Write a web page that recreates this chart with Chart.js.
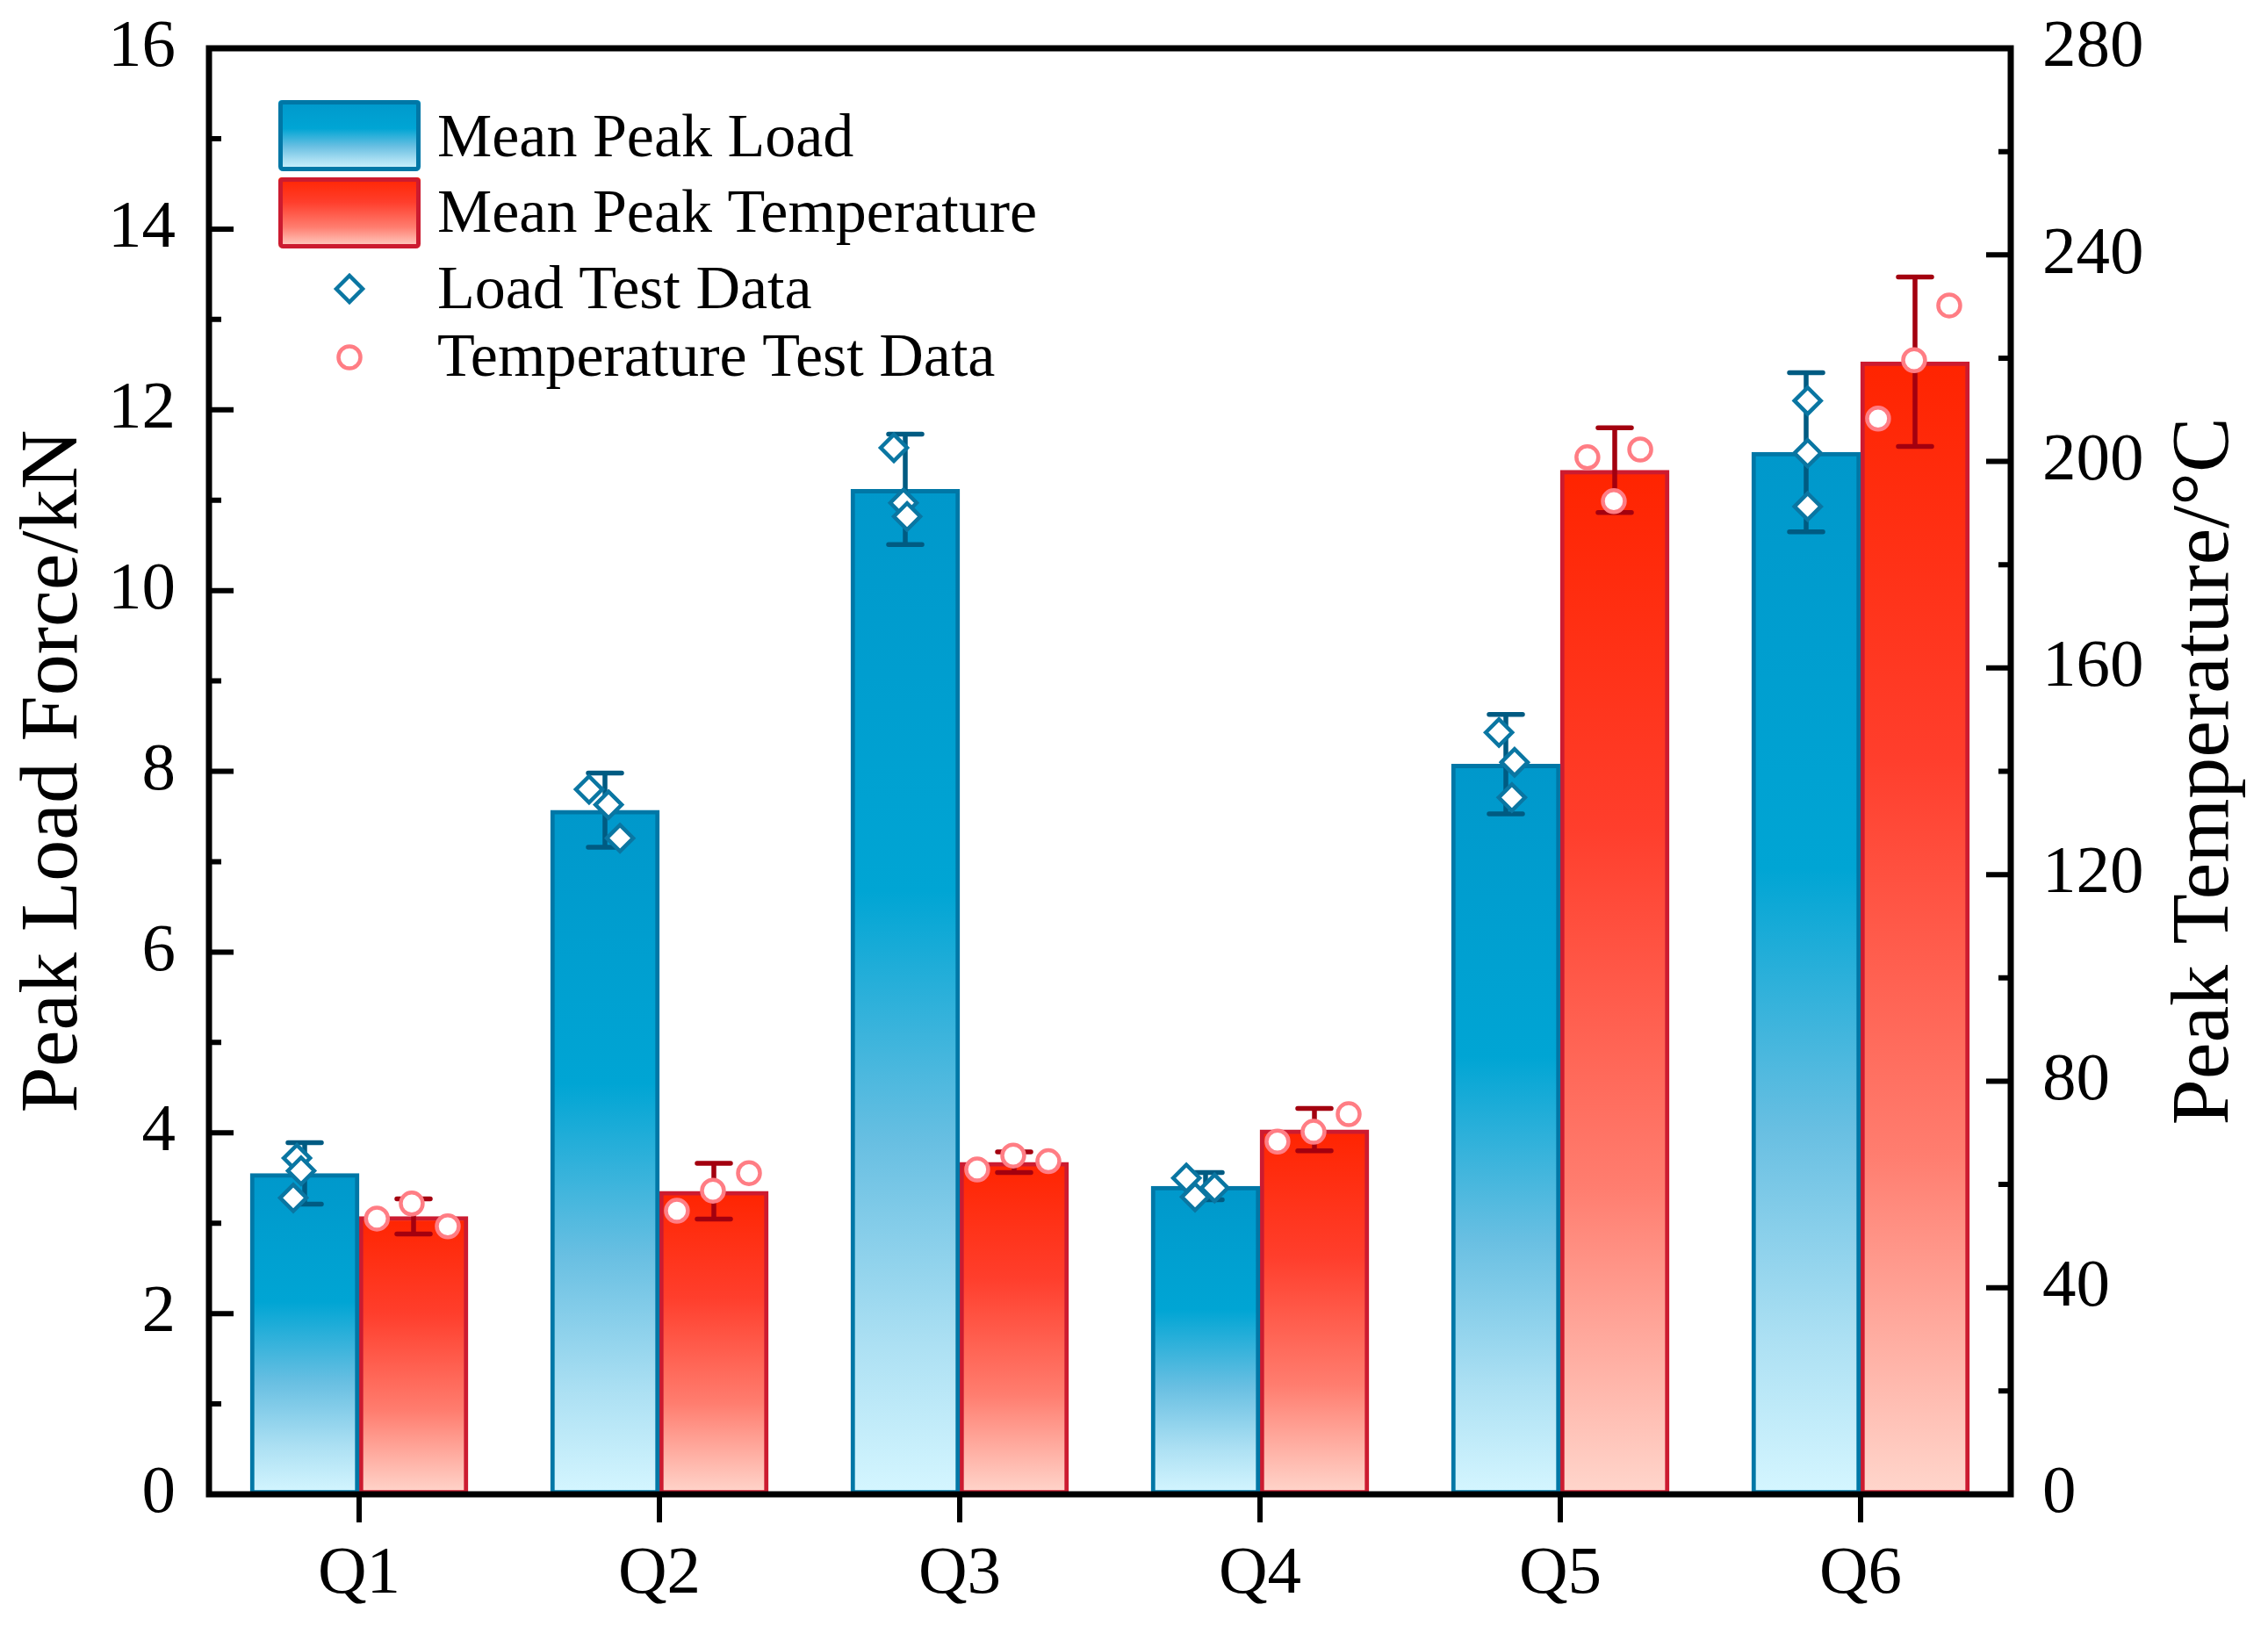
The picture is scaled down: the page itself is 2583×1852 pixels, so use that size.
<!DOCTYPE html>
<html>
<head>
<meta charset="utf-8">
<script src="https://cdn.jsdelivr.net/npm/chart.js@4"></script>
<style>
  html, body { margin: 0; padding: 0; background: #fff; }
  #wrap { width: 2583px; height: 1852px; position: relative; }
</style>
</head>
<body>
<div id="wrap"><canvas id="chart"></canvas></div>
<script>
// data
const categories = ['Q1', 'Q2', 'Q3', 'Q4', 'Q5', 'Q6'];
const loadMean = [3.55, 7.57, 11.12, 3.41, 8.08, 11.53];
const loadErr = [0.34, 0.41, 0.61, 0.15, 0.55, 0.88];
const tempMean = [53.8, 58.7, 64.3, 70.6, 198.3, 219.3];
const tempErr = [3.4, 5.4, 2.0, 4.1, 8.2, 16.4];
const loadTests = [[3.72, 3.58, 3.28], [7.80, 7.63, 7.26], [11.58, 10.97, 10.82], [3.50, 3.29, 3.39], [8.43, 8.10, 7.71], [12.10, 11.52, 10.93]];
const tempTests = [[53.4, 56.3, 51.9], [54.9, 58.8, 62.2], [62.9, 65.6, 64.5], [68.3, 70.2, 73.6], [200.8, 192.3, 202.3], [208.3, 219.6, 230.2]];
// horizontal scatter of the test points around their bar (category units)
const loadJitter = [[-0.026, -0.012, -0.038], [-0.053, 0.012, 0.05], [-0.038, -0.006, 0.006], [-0.064, -0.035, 0.03], [-0.023, 0.029, 0.02], [0.005, 0.005, 0.005]];
const tempJitter = [[-0.122, -0.006, 0.114], [-0.123, -0.003, 0.117], [-0.123, -0.003, 0.114], [-0.123, -0.003, 0.114], [-0.091, -0.003, 0.085], [-0.123, -0.003, 0.114]];
const loadTicks = { min: 0, max: 16, major: 2, minor: 1 };
const tempTicks = { min: 0, max: 280, major: 40, minor: 20 };

const FONT = "'Liberation Serif', 'Times New Roman', serif";
const groupWidth = 0.725;
const shift = groupWidth / 4;

const blueStops = [[0, '#0098cb'], [0.4, '#00a5d4'], [0.65, '#68bfe2'], [0.85, '#ace0f3'], [1, '#d5f6ff']];
const redStops = [[0, '#ff2400'], [0.35, '#ff3e2c'], [0.7, '#ff7d6f'], [1, '#ffd6cc']];

function makeGradient(ctx, stops, top, bottom) {
  const g = ctx.createLinearGradient(0, top, 0, bottom);
  stops.forEach(s => g.addColorStop(s[0], s[1]));
  return g;
}

function barFill(stops, axisId) {
  return (c) => {
    if (c.type !== 'data') return stops[0][1];
    const scale = c.chart.scales[axisId];
    if (!scale) return stops[0][1];
    const top = scale.getPixelForValue(c.raw);
    const base = scale.getPixelForValue(0);
    if (!isFinite(top) || !isFinite(base) || base - top < 1) return stops[0][1];
    return makeGradient(c.chart.ctx, stops, top, base);
  };
}

function testPoints(tests, jitter, side) {
  const pts = [];
  tests.forEach((vals, i) => {
    vals.forEach((v, k) => pts.push({ x: i + side * shift + jitter[i][k], y: v }));
  });
  return pts;
}

const diamondStyle = { pointStyle: 'rectRot', radius: 15, borderWidth: 4.5, borderColor: '#0a76a2', backgroundColor: '#ffffff' };
const circleStyle = { pointStyle: 'circle', radius: 12.5, borderWidth: 4.5, borderColor: '#ff7d84', backgroundColor: '#ffffff' };

// no label overflow padding, the plot area is fixed
function fixBox(w, h) {
  return (s) => {
    if (w !== null) s.width = w;
    if (h !== null) s.height = h;
    s.paddingTop = 0; s.paddingBottom = 0; s.paddingLeft = 0; s.paddingRight = 0;
  };
}

const errorBars = {
  id: 'errorBars',
  afterDatasetDraw(chart, args) {
    const ds = chart.data.datasets[args.index];
    if (!ds.errors) return;
    const ctx = chart.ctx;
    const scale = chart.scales[ds.yAxisID];
    ctx.save();
    ctx.strokeStyle = ds.errorColor;
    ctx.lineWidth = 5.5;
    ctx.lineCap = 'round';
    args.meta.data.forEach((bar, i) => {
      const hi = scale.getPixelForValue(ds.data[i] + ds.errors[i]);
      const lo = scale.getPixelForValue(ds.data[i] - ds.errors[i]);
      const x = bar.x;
      ctx.beginPath();
      ctx.moveTo(x, hi); ctx.lineTo(x, lo);
      ctx.moveTo(x - 19, hi); ctx.lineTo(x + 19, hi);
      ctx.moveTo(x - 19, lo); ctx.lineTo(x + 19, lo);
      ctx.stroke();
    });
    ctx.restore();
  }
};

const frameAndTicks = {
  id: 'frameAndTicks',
  afterDraw(chart) {
    const ctx = chart.ctx;
    const a = chart.chartArea;
    ctx.save();
    ctx.strokeStyle = '#000';
    ctx.lineWidth = 6;
    ctx.lineCap = 'butt';
    const y = chart.scales.y, y1 = chart.scales.y1, x = chart.scales.x;
    ctx.beginPath();
    y.ticks.forEach(t => {
      const p = y.getPixelForValue(t.value);
      const len = t.value % loadTicks.major === 0 ? 28 : 14;
      ctx.moveTo(a.left, p); ctx.lineTo(a.left + len, p);
    });
    y1.ticks.forEach(t => {
      const p = y1.getPixelForValue(t.value);
      const len = t.value % tempTicks.major === 0 ? 28 : 14;
      ctx.moveTo(a.right, p); ctx.lineTo(a.right - len, p);
    });
    x.ticks.forEach((t, i) => {
      const p = x.getPixelForTick(i);
      ctx.moveTo(p, a.bottom); ctx.lineTo(p, a.bottom + 32);
    });
    ctx.stroke();
    ctx.lineWidth = 7;
    ctx.strokeRect(a.left, a.top, a.right - a.left, a.bottom - a.top);

    // right axis title, reading upward
    ctx.fillStyle = '#000';
    ctx.font = '94px ' + FONT;
    ctx.textAlign = 'center';
    ctx.textBaseline = 'middle';
    ctx.translate(2512, (a.top + a.bottom) / 2);
    ctx.rotate(-Math.PI / 2);
    ctx.fillText('Peak Temperature/°C', 0, 0);
    ctx.restore();
  }
};

function drawMarker(ctx, style, x, y) {
  ctx.save();
  ctx.fillStyle = style.backgroundColor;
  ctx.strokeStyle = style.borderColor;
  ctx.lineWidth = style.borderWidth;
  Chart.helpers.drawPoint(ctx, style, x, y);
  ctx.restore();
}

const legendBox = {
  id: 'legendBox',
  afterDraw(chart) {
    const ctx = chart.ctx;
    ctx.save();
    const boxes = [
      { y: 114, stops: blueStops, border: '#0077a6' },
      { y: 202, stops: redStops, border: '#cc1b30' }
    ];
    boxes.forEach(b => {
      ctx.fillStyle = makeGradient(ctx, b.stops, b.y, b.y + 81);
      ctx.beginPath();
      ctx.roundRect(317, b.y, 162, 81, 4);
      ctx.fill();
      ctx.lineWidth = 5;
      ctx.strokeStyle = b.border;
      ctx.beginPath();
      ctx.roundRect(319.5, b.y + 2.5, 157, 76, 3);
      ctx.stroke();
    });
    drawMarker(ctx, diamondStyle, 398, 329);
    drawMarker(ctx, circleStyle, 398, 407);
    ctx.fillStyle = '#000';
    ctx.font = '70px ' + FONT;
    ctx.textAlign = 'left';
    ctx.textBaseline = 'alphabetic';
    ctx.fillText('Mean Peak Load', 498, 178);
    ctx.fillText('Mean Peak Temperature', 498, 264);
    ctx.fillText('Load Test Data', 498, 351);
    ctx.fillText('Temperature Test Data', 498, 428);
    ctx.restore();
  }
};

new Chart(document.getElementById('chart'), {
  data: {
    labels: categories,
    datasets: [
      Object.assign({
        type: 'scatter', label: 'Load Test Data', order: 0,
        data: testPoints(loadTests, loadJitter, -1),
        xAxisID: 'xs', yAxisID: 'y',
        pointRadius: diamondStyle.radius
      }, diamondStyle),
      Object.assign({
        type: 'scatter', label: 'Temperature Test Data', order: 0,
        data: testPoints(tempTests, tempJitter, 1),
        xAxisID: 'xs', yAxisID: 'y1',
        pointRadius: circleStyle.radius
      }, circleStyle),
      {
        type: 'bar', label: 'Mean Peak Load', order: 1,
        data: loadMean, errors: loadErr, errorColor: '#005b82',
        xAxisID: 'x', yAxisID: 'y',
        backgroundColor: barFill(blueStops, 'y'),
        borderColor: '#0077a6', borderWidth: 5, borderSkipped: false,
        barThickness: 124
      },
      {
        type: 'bar', label: 'Mean Peak Temperature', order: 1,
        data: tempMean, errors: tempErr, errorColor: '#a3000f',
        xAxisID: 'x', yAxisID: 'y1',
        backgroundColor: barFill(redStops, 'y1'),
        borderColor: '#cc1b30', borderWidth: 5, borderSkipped: false,
        barThickness: 124
      }
    ]
  },
  options: {
    responsive: true,
    maintainAspectRatio: false,
    animation: false,
    events: [],
    layout: { padding: { top: 55, left: 0, right: 0, bottom: 0 } },
    plugins: { legend: { display: false }, tooltip: { enabled: false } },
    scales: {
      x: {
        type: 'category', position: 'bottom', offset: true,
        grid: { display: false, drawTicks: false },
        border: { display: false },
        ticks: { color: '#000', font: { family: FONT, size: 77 }, padding: 46 },
        afterFit: fixBox(null, 150)
      },
      xs: {
        type: 'linear', display: false, min: -0.5, max: 5.5
      },
      y: {
        type: 'linear', position: 'left',
        min: loadTicks.min, max: loadTicks.max,
        grid: { display: false, drawTicks: false },
        border: { display: false },
        ticks: {
          stepSize: loadTicks.minor, color: '#000', padding: 38,
          font: { family: FONT, size: 77 },
          callback: v => (v % loadTicks.major === 0 ? String(v) : '')
        },
        title: {
          display: true, text: 'Peak Load Force/kN', color: '#000',
          font: { family: FONT, size: 94 }, padding: { top: 6, bottom: 0 }
        },
        afterFit: fixBox(238, null)
      },
      y1: {
        type: 'linear', position: 'right',
        min: tempTicks.min, max: tempTicks.max,
        grid: { display: false, drawTicks: false },
        border: { display: false },
        ticks: {
          stepSize: tempTicks.minor, color: '#000', padding: 36,
          font: { family: FONT, size: 77 },
          callback: v => (v % tempTicks.major === 0 ? String(v) : '')
        },
        afterFit: fixBox(293, null)
      }
    }
  },
  plugins: [errorBars, frameAndTicks, legendBox]
});
</script>
</body>
</html>
